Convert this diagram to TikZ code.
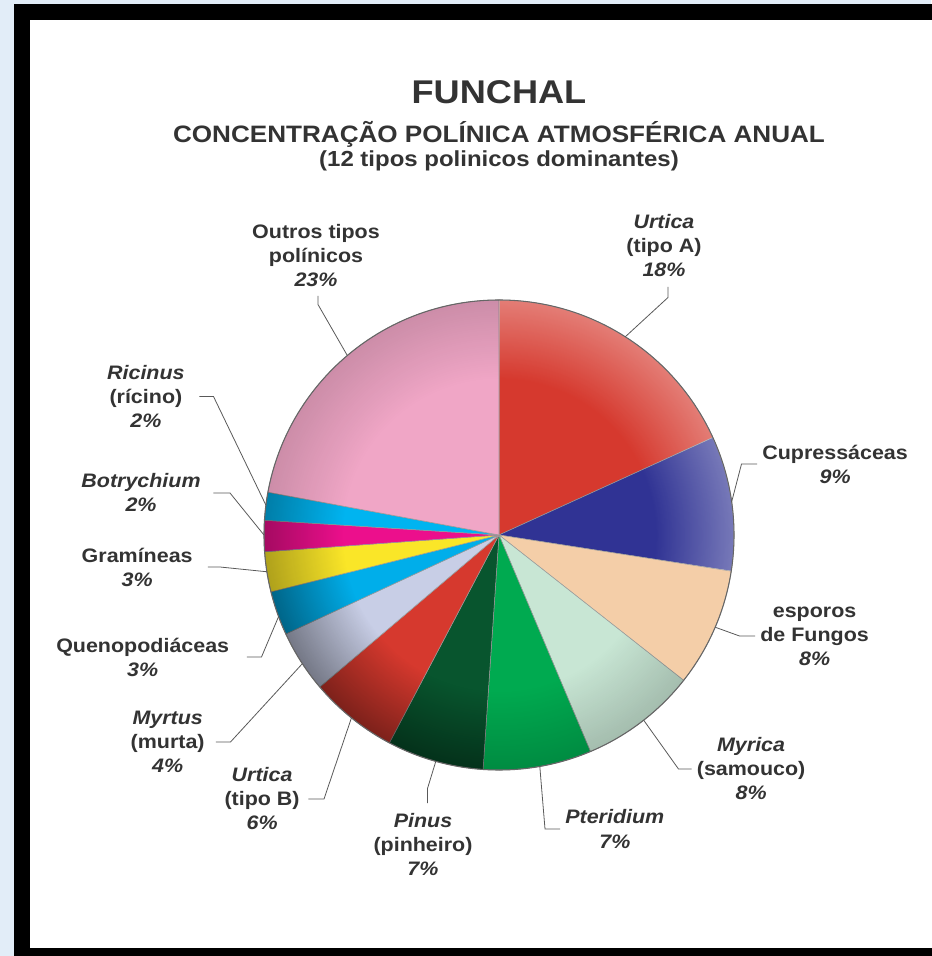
\documentclass[tikz,border=0pt]{standalone}
\usepackage{fontspec}
\usepackage{xcolor}
\usepackage{tikz}
\usetikzlibrary{fadings}

\newfontfamily\chartfont[FakeStretch=1.1]{Liberation Sans}

\definecolor{urticared}{RGB}{214,57,46}
\definecolor{cupblue}{RGB}{48,51,148}
\definecolor{fungtan}{RGB}{244,206,168}
\definecolor{myrgreen}{RGB}{200,230,212}
\definecolor{ptegreen}{RGB}{0,170,80}
\definecolor{pindark}{RGB}{8,85,46}
\definecolor{myrtgray}{RGB}{200,206,230}
\definecolor{queblue}{RGB}{0,174,234}
\definecolor{gramyellow}{RGB}{250,230,40}
\definecolor{botmagenta}{RGB}{236,15,140}
\definecolor{ricblue}{RGB}{0,180,240}
\definecolor{outpink}{RGB}{240,166,198}
\definecolor{textgray}{RGB}{51,51,51}
\definecolor{bgblue}{RGB}{226,237,248}
\definecolor{bglight}{RGB}{246,250,254}

% rim of the pie: clear inside, opaque at the edge
\pgfdeclareradialshading{rimshading}{\pgfpointorigin}{color(0bp)=(black); color(16.5bp)=(black); color(25bp)=(white); color(50bp)=(white)}
\pgfdeclarefading{rimfade}{\pgfuseshading{rimshading}}

\begin{document}
\begin{tikzpicture}[
	lbl/.style={font=\chartfont\fontsize{11.1}{13.66}\selectfont\bfseries, text=textgray, align=center, inner sep=0.1cm},
	ttl/.style={font=\chartfont\fontsize{18.7}{22}\selectfont\bfseries, text=textgray, inner sep=0pt},
	subttl/.style={font=\chartfont\fontsize{13.5}{16}\selectfont\bfseries, text=textgray, inner sep=0pt},
	leader/.style={draw=black!65, line width=0.45pt},
	slice/.style={draw=black!40, line width=0.3pt},
	rimshade/.style={path fading=rimfade}
	]
				\useasboundingbox (-9.98,-8.42) rectangle (8.64,10.70);
				\shade[top color=bgblue, middle color=bglight, bottom color=bgblue] (-9.98,-8.42) rectangle (8.64,10.70);
				\fill[black] (-9.70,-9) rectangle (9.2,10.62);
				\fill[white] (-9.38,-8.26) rectangle (9.2,10.30);
				
				\def\R{4.7}
				\filldraw[slice, fill=urticared] (0,0) -- (90:\R) arc[start angle=90, end angle=24.5, radius=\R] -- cycle;
				\filldraw[slice, fill=cupblue] (0,0) -- (24.5:\R) arc[start angle=24.5, end angle=-8.85, radius=\R] -- cycle;
				\filldraw[slice, fill=fungtan] (0,0) -- (-8.85:\R) arc[start angle=-8.85, end angle=-38.2, radius=\R] -- cycle;
				\filldraw[slice, fill=myrgreen] (0,0) -- (-38.2:\R) arc[start angle=-38.2, end angle=-67.1, radius=\R] -- cycle;
				\filldraw[slice, fill=ptegreen] (0,0) -- (-67.1:\R) arc[start angle=-67.1, end angle=-93.9, radius=\R] -- cycle;
				\filldraw[slice, fill=pindark] (0,0) -- (-93.9:\R) arc[start angle=-93.9, end angle=-117.8, radius=\R] -- cycle;
				\filldraw[slice, fill=urticared] (0,0) -- (-117.8:\R) arc[start angle=-117.8, end angle=-139.7, radius=\R] -- cycle;
				\filldraw[slice, fill=myrtgray] (0,0) -- (-139.7:\R) arc[start angle=-139.7, end angle=-155.1, radius=\R] -- cycle;
				\filldraw[slice, fill=queblue] (0,0) -- (-155.1:\R) arc[start angle=-155.1, end angle=-166, radius=\R] -- cycle;
				\filldraw[slice, fill=gramyellow] (0,0) -- (-166:\R) arc[start angle=-166, end angle=-175.9, radius=\R] -- cycle;
				\filldraw[slice, fill=botmagenta] (0,0) -- (-175.9:\R) arc[start angle=-175.9, end angle=-183.6, radius=\R] -- cycle;
				\filldraw[slice, fill=ricblue] (0,0) -- (-183.6:\R) arc[start angle=-183.6, end angle=-190.5, radius=\R] -- cycle;
				\filldraw[slice, fill=outpink] (0,0) -- (-190.5:\R) arc[start angle=-190.5, end angle=-270, radius=\R] -- cycle;
				
				\begin{scope}
				\clip (0,0) -- (90:\R) arc[start angle=90, end angle=-8.85, radius=\R] -- cycle;
				\fill[white, fill opacity=0.35, rimshade] (0,0) circle (\R);
				\end{scope}
				\begin{scope}
				\clip (0,0) -- (-38.2:\R) arc[start angle=-38.2, end angle=-93.9, radius=\R] -- cycle;
				\fill[black, fill opacity=0.18, rimshade] (0,0) circle (\R);
				\end{scope}
				\begin{scope}
				\clip (0,0) -- (-93.9:\R) arc[start angle=-93.9, end angle=-166, radius=\R] -- cycle;
				\fill[black, fill opacity=0.42, rimshade] (0,0) circle (\R);
				\end{scope}
				\begin{scope}
				\clip (0,0) -- (-166:\R) arc[start angle=-166, end angle=-190.5, radius=\R] -- cycle;
				\fill[black, fill opacity=0.3, rimshade] (0,0) circle (\R);
				\end{scope}
				\begin{scope}
				\clip (0,0) -- (-190.5:\R) arc[start angle=-190.5, end angle=-270, radius=\R] -- cycle;
				\fill[black, fill opacity=0.15, rimshade] (0,0) circle (\R);
				\end{scope}
				\draw[black!60, line width=0.6pt] (0,0) circle (\R);
				
				\node[ttl, anchor=base] (funchal) at (0,8.62) {FUNCHAL};
				\node[subttl, anchor=base] (conc) at (0,7.84) {CONCENTRAÇÃO POLÍNICA ATMOSFÉRICA ANUAL};
				\node[subttl, font=\chartfont\fontsize{12.4}{15}\selectfont\bfseries, anchor=base] (tipos) at (0,7.36) {(12 tipos polinicos dominantes)};
				
				\node[lbl, anchor=south] (outros) at (-3.66,4.86) {Outros tipos\\polínicos\\\textit{23\%}};
				\node[lbl, anchor=south] (urtA) at (3.30,5.06) {\textit{Urtica}\\(tipo A)\\\textit{18\%}};
				\node[lbl, anchor=west] (cup) at (5.16,1.42) {Cupressáceas\\\textit{9\%}};
				\node[lbl, anchor=west] (fung) at (5.12,-2.02) {esporos\\de Fungos\\\textit{8\%}};
				\node[lbl, anchor=west] (myrica) at (3.85,-4.68) {\textit{Myrica}\\(samouco)\\\textit{8\%}};
				\node[lbl, anchor=west] (pter) at (1.22,-5.88) {\textit{Pteridium}\\\textit{7\%}};
				\node[lbl, anchor=north] (pinus) at (-1.52,-5.46) {\textit{Pinus}\\(pinheiro)\\\textit{7\%}};
				\node[lbl, anchor=east] (urtB) at (-3.88,-5.28) {\textit{Urtica}\\(tipo B)\\\textit{6\%}};
				\node[lbl, anchor=east] (myrtus) at (-5.78,-4.14) {\textit{Myrtus}\\(murta)\\\textit{4\%}};
				\node[lbl, anchor=east] (queno) at (-5.29,-2.44) {Quenopodiáceas\\\textit{3\%}};
				\node[lbl, anchor=east] (gram) at (-6.02,-0.64) {Gramíneas\\\textit{3\%}};
				\node[lbl, anchor=east] (botry) at (-5.86,0.84) {\textit{Botrychium}\\\textit{2\%}};
				\node[lbl, anchor=east] (ricinus) at (-6.18,2.77) {\textit{Ricinus}\\(rícino)\\\textit{2\%}};
				
				\coordinate (outros-k) at (-3.62,4.61);
				\coordinate (urtA-k) at (3.38,4.75);
				\coordinate (cup-k) at (4.85,1.42);
				\coordinate (fung-k) at (4.81,-2.02);
				\coordinate (myrica-k) at (3.59,-4.68);
				\coordinate (pter-k) at (0.92,-5.88);
				\coordinate (pinus-k) at (-1.43,-5.07);
				\coordinate (urtB-k) at (-3.50,-5.28);
				\coordinate (myrtus-k) at (-5.37,-4.14);
				\coordinate (queno-k) at (-4.75,-2.44);
				\coordinate (gram-k) at (-5.58,-0.64);
				\coordinate (botry-k) at (-5.38,0.84);
				\coordinate (ricinus-k) at (-5.71,2.77);
				
				\draw[leader, shorten <=0.08cm] (outros.south -| outros-k) -- (outros-k) -- (130.2:\R);
				\draw[leader, shorten <=0.1cm] (urtA.south -| urtA-k) -- (urtA-k) -- (57.5:\R);
				\draw[leader] (cup.west) -- (cup-k) -- (8.1:\R);
				\draw[leader] (fung.west) -- (fung-k) -- (-23.1:\R);
				\draw[leader] (myrica.west) -- (myrica-k) -- (-52:\R);
				\draw[leader] (pter.west) -- (pter-k) -- (-80:\R);
				\draw[leader, shorten <=0.1cm] (pinus.north -| pinus-k) -- (pinus-k) -- (-105.6:\R);
				\draw[leader, shorten <=0.07cm] (urtB.east) -- (urtB-k) -- (-128.9:\R);
				\draw[leader, shorten <=0.12cm] (myrtus.east) -- (myrtus-k) -- (-146.8:\R);
				\draw[leader, shorten <=0.25cm] (queno.east) -- (queno-k) -- (-159.7:\R);
				\draw[leader, shorten <=0.2cm] (gram.east) -- (gram-k) -- (-171:\R);
				\draw[leader, shorten <=0.15cm] (botry.east) -- (botry-k) -- (180:\R);
				\draw[leader, shorten <=0.19cm] (ricinus.east) -- (ricinus-k) -- (172.7:\R);
\end{tikzpicture}
\end{document}
